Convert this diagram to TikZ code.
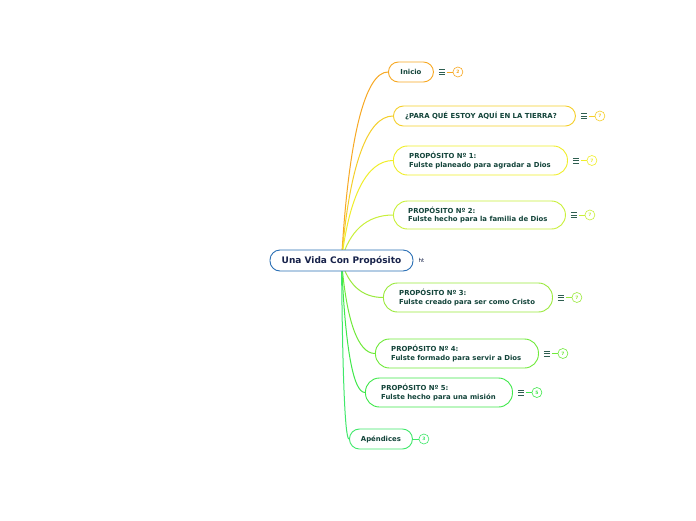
\documentclass[tikz,border=0pt]{standalone}
\usepackage{fontspec}
\setmainfont{DejaVu Sans}
\usetikzlibrary{calc}
\definecolor{cInicio}{HTML}{F7A823}
\definecolor{cPara}{HTML}{F5CF2A}
\definecolor{cP1}{HTML}{F0EE2A}
\definecolor{cP2}{HTML}{C9F03A}
\definecolor{cP3}{HTML}{9BEA3E}
\definecolor{cP4}{HTML}{6FEA3A}
\definecolor{cP5}{HTML}{3FE84A}
\definecolor{cAp}{HTML}{3FE86A}
\definecolor{cCenter}{HTML}{2A6FB5}
\definecolor{txtc}{HTML}{13443A}
\definecolor{ctxt}{HTML}{17224A}
\definecolor{menuc}{HTML}{2E5E50}
\tikzset{
  box/.style={draw, fill=white, line width=0.9pt, rounded corners=10pt, inner sep=0pt},
  tallbox/.style={box, rounded corners=14pt},
  boxtxt/.style={anchor=west, inner sep=0pt, align=left, text=txtc, font=\fontsize{6.9}{8.8}\selectfont\bfseries},
  conn/.style={line width=1pt},
  badge/.style={circle, draw, fill=white, line width=0.6pt, minimum size=10pt, inner sep=0pt, font=\fontsize{4.5}{4.5}\selectfont\bfseries},
  menuline/.style={draw=menuc, line width=0.7pt},
}
\newcommand{\mymenu}[3]{% anchor coordinate, color, number
  \draw[menuline] ($(#1)+(5,-2.5)$) -- ++(6,0);
  \draw[menuline] ($(#1)+(5,0)$) -- ++(6,0);
  \draw[menuline] ($(#1)+(5,2.5)$) -- ++(6,0);
  \draw[#2, line width=0.7pt] ($(#1)+(13,0)$) -- ($(#1)+(19,0)$);
  \node[badge, draw=#2, text=#2] at ($(#1)+(24,0)$) {#3};
}
\begin{document}
\begin{tikzpicture}[x=1pt,y=-1pt]
\useasboundingbox[fill=white] (0,0) rectangle (696,520);
\coordinate (S) at (341.5,260.5);
\coordinate (Linicio) at (388,72);
\coordinate (Lpara) at (393,116);
\coordinate (Lp1) at (393,160.5);
\coordinate (Lp2) at (393,215);
\coordinate (Lp3) at (383,297.5);
\coordinate (Lp4) at (375,353.5);
\coordinate (Lp5) at (365,392.5);
\coordinate (Lap) at (349,439);
% connectors
\draw[conn, cInicio] (S) .. controls +(7,-122.5) and +(-23,0) .. (Linicio);
\draw[conn, cPara] (S) .. controls +(7.7,-94) and +(-26,0) .. (Lpara);
\draw[conn, cP1] (S) .. controls +(7.7,-65) and +(-26,0) .. (Lp1);
\draw[conn, cP2] (S) .. controls +(7.7,-29.6) and +(-26,0) .. (Lp2);
\draw[conn, cP3] (S) .. controls +(6.2,24) and +(-21,0) .. (Lp3);
\draw[conn, cP4] (S) .. controls +(5,60.5) and +(-17,0) .. (Lp4);
\draw[conn, cP5] (S) .. controls +(3.5,86) and +(-12,0) .. (Lp5);
\draw[conn, cAp] (S) .. controls +(1,116) and +(-4,0) .. (Lap);
% central node
\node[box, draw=cCenter, minimum width=143pt, minimum height=21pt, font=\fontsize{9}{10}\selectfont\bfseries, text=ctxt] (c) at (S) {Una Vida Con Propósito};
\node[anchor=west, inner sep=0pt, font=\fontsize{5.5}{6}\selectfont, text=ctxt] (ht) at ($(c.east)+(5,0)$) {ht};
% children
\node[box, draw=cInicio, minimum width=45pt, minimum height=20pt, anchor=west] (inicio) at (Linicio) {};
\node[inner sep=0pt, text=txtc, font=\fontsize{6.9}{8.8}\selectfont\bfseries] (inicioT) at (inicio.center) {Inicio};
\node[box, draw=cPara, minimum width=182pt, minimum height=20pt, anchor=west] (para) at (Lpara) {};
\node[boxtxt] (paraT) at ($(para.west)+(12,0)$) {¿PARA QUÉ ESTOY AQUÍ EN LA TIERRA?};
\node[tallbox, draw=cP1, minimum width=174pt, minimum height=29pt, anchor=west] (p1) at (Lp1) {};
\node[boxtxt] (p1T) at ($(p1.west)+(16,0)$) {PROPÓSITO Nº 1:\\Fulste planeado para agradar a Dios};
\node[tallbox, draw=cP2, minimum width=172pt, minimum height=28pt, anchor=west] (p2) at (Lp2) {};
\node[boxtxt] (p2T) at ($(p2.west)+(15,0)$) {PROPÓSITO Nº 2:\\Fulste hecho para la familia de Dios};
\node[tallbox, draw=cP3, minimum width=169pt, minimum height=29pt, anchor=west] (p3) at (Lp3) {};
\node[boxtxt] (p3T) at ($(p3.west)+(16,0)$) {PROPÓSITO Nº 3:\\Fulste creado para ser como Cristo};
\node[tallbox, draw=cP4, minimum width=163pt, minimum height=29pt, anchor=west] (p4) at (Lp4) {};
\node[boxtxt] (p4T) at ($(p4.west)+(16,0)$) {PROPÓSITO Nº 4:\\Fulste formado para servir a Dios};
\node[tallbox, draw=cP5, minimum width=147pt, minimum height=29pt, anchor=west] (p5) at (Lp5) {};
\node[boxtxt] (p5T) at ($(p5.west)+(16,0)$) {PROPÓSITO Nº 5:\\Fulste hecho para una misión};
\node[box, draw=cAp, minimum width=63pt, minimum height=20pt, anchor=west] (ap) at (Lap) {};
\node[inner sep=0pt, text=txtc, font=\fontsize{6.9}{8.8}\selectfont\bfseries] (apT) at (ap.center) {Apéndices};
% menus and badges
\mymenu{inicio.east}{cInicio}{2}
\mymenu{para.east}{cPara}{7}
\mymenu{p1.east}{cP1}{7}
\mymenu{p2.east}{cP2}{7}
\mymenu{p3.east}{cP3}{7}
\mymenu{p4.east}{cP4}{7}
\mymenu{p5.east}{cP5}{5}
\draw[cAp, line width=0.7pt] (ap.east) -- ($(ap.east)+(6,0)$);
\node[badge, draw=cAp, text=cAp] (apB) at ($(ap.east)+(11,0)$) {3};
\end{tikzpicture}
\end{document}
